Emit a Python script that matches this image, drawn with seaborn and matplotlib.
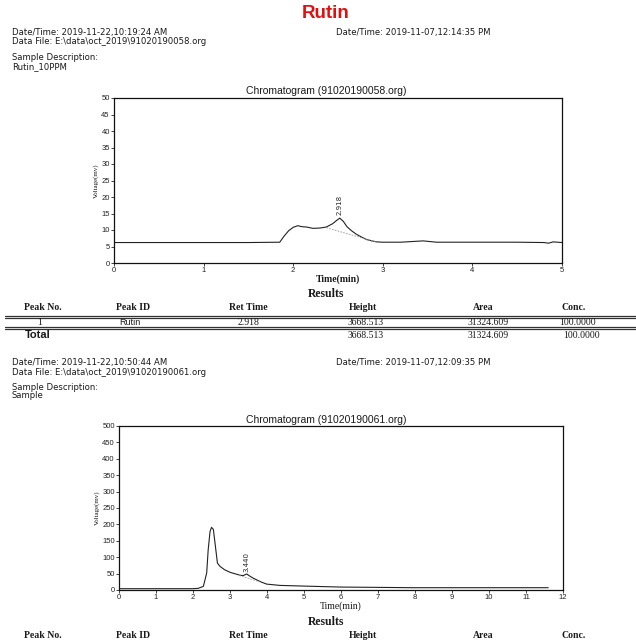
import matplotlib
matplotlib.use("Agg")
import matplotlib.pyplot as plt
import seaborn as sns
import pandas as pd
from matplotlib.lines import Line2D

# ---------------- data ----------------
std_time = [0.0, 0.5, 1.0, 1.5, 1.85, 1.9, 1.95, 2.0, 2.05, 2.1, 2.15, 2.22, 2.3, 2.37,
            2.44, 2.48, 2.52, 2.56, 2.6, 2.65, 2.7, 2.76, 2.82, 2.88, 2.93, 3.0, 3.2,
            3.45, 3.6, 4.0, 4.5, 4.8, 4.85, 4.9, 5.0]
std_volt = [6.2, 6.2, 6.2, 6.2, 6.3, 8.2, 9.8, 10.8, 11.3, 11.0, 10.9, 10.5, 10.6, 10.9,
            11.9, 12.8, 13.6, 12.6, 11.0, 9.8, 8.8, 7.9, 7.1, 6.7, 6.4, 6.3, 6.3,
            6.7, 6.3, 6.3, 6.3, 6.2, 6.0, 6.4, 6.2]
std_base_time = [2.37, 2.92]
std_base_volt = [10.7, 6.4]
std_peak_time = 2.52
std_peak_volt = 13.6
std_peak_label = "2.918"

smp_time = [0.0, 1.0, 2.0, 2.14, 2.28, 2.37, 2.41, 2.46, 2.5, 2.55, 2.59, 2.66, 2.73,
            2.85, 3.0, 3.15, 3.27, 3.36, 3.45, 3.54, 3.63, 3.72, 3.85, 3.99, 4.35,
            4.98, 5.97, 7.0, 7.95, 9.0, 10.0, 11.1, 11.6]
smp_volt = [4, 4, 4, 5, 11, 52, 122, 178, 191, 185, 148, 82, 72,
            62, 54, 49, 45, 44, 49, 42, 36, 31, 24, 18, 14,
            12, 9, 8, 7, 7, 7, 7, 7]
smp_base_time = [3.25, 3.8]
smp_base_volt = [44, 25]
smp_peak_time = 3.45
smp_peak_volt = 49
smp_peak_label = "3.440"

table_cols = ["Peak No.", "Peak ID", "Ret Time", "Height", "Area", "Conc."]
row1 = ["1", "Rutin", "2.918", "3668.513", "31324.609", "100.0000"]
total_row = ["3668.513", "31324.609", "100.0000"]

# ---------------- layout ----------------
W, H = 636, 643
sns.set_style("white")
plt.rcParams['font.family'] = ['Liberation Sans', 'DejaVu Sans']
fig = plt.figure(figsize=(W / 100, H / 100), dpi=100)
fig.patch.set_facecolor("white")

serif = "Liberation Serif"
HDR = 6.1
HFAM = "DejaVu Sans"
TXT = "#1a1a1a"


def ft(x, y, s, **kw):
    kw.setdefault("va", "center")
    kw.setdefault("ha", "left")
    kw.setdefault("color", TXT)
    fig.text(x / W, 1 - y / H, s, **kw)


def hdr(x, y, s):
    ft(x, y, s, fontsize=HDR, family=HFAM)


def hline(y, x0=5, x1=636, lw=0.9, color="#333333"):
    fig.add_artist(Line2D([x0 / W, x1 / W], [1 - y / H, 1 - y / H],
                          transform=fig.transFigure, color=color, lw=lw))


def make_axes(l, t, r, b):
    return fig.add_axes([l / W, 1 - b / H, (r - l) / W, (b - t) / H])


def style_axes(ax, xlim, ylim, xticks, yticks, bold_x):
    ax.set_xlim(*xlim)
    ax.set_ylim(*ylim)
    ax.set_xticks(xticks)
    ax.set_yticks(yticks)
    ax.tick_params(axis="both", direction="out", length=2.5, width=0.6,
                   labelsize=5.5, pad=0.5, colors="#222222", bottom=True, left=True)
    for s in ax.spines.values():
        s.set_visible(True)
        s.set_linewidth(0.9)
        s.set_color("#111111")
    ax.set_xlabel("Time(min)", family=serif, fontsize=7, labelpad=0,
                  fontweight="bold" if bold_x else "normal", color=TXT)
    ax.set_ylabel("Voltage(mv)", family=serif, fontsize=5, labelpad=1.5, color=TXT)


# ---------------- header 1 ----------------
ft(326, 13, "Rutin", ha="center", color="#e01010", fontsize=13.5, fontweight="bold")
hdr(12, 32, "Date/Time: 2019-11-22,10:19:24 AM")
hdr(12, 42, "Data File: E:\\data\\oct_2019\\91020190058.org")
hdr(336, 32, "Date/Time: 2019-11-07,12:14:35 PM")
hdr(12, 58, "Sample Description:")
hdr(12, 67, "Rutin_10PPM")

# ---------------- chart 1 ----------------
ax1 = make_axes(114, 98, 562, 263)
df1 = pd.DataFrame({"t": std_time, "v": std_volt})
sns.lineplot(data=df1, x="t", y="v", ax=ax1, color="#222222", lw=0.8)
sns.lineplot(x=std_base_time, y=std_base_volt, ax=ax1, color="#999999", lw=0.6,
             linestyle=(0, (2, 1.5)))
ax1.text(std_peak_time, std_peak_volt + 0.8, std_peak_label, rotation=90,
         ha="center", va="bottom", fontsize=5, family="Liberation Sans Narrow")
style_axes(ax1, (0, 5), (0, 50), range(0, 6), range(0, 55, 5), True)
ft(326, 91, "Chromatogram (91020190058.org)", ha="center", fontsize=7.5)

# ---------------- table 1 ----------------
ft(326, 294, "Results", ha="center", family=serif, fontsize=8.5, fontweight="bold")
col_x = [43, 133, 248, 363, 483, 574]
for x, c in zip(col_x, table_cols):
    ft(x, 307, c, ha="center", family=serif, fontsize=7, fontweight="bold")
hline(315.6)
hline(317.8)
val_x = [40, 130, 249, 366, 488, 577]
for x, v in zip(val_x, row1):
    ft(x, 322.5, v, ha="center", family=serif if v != "Rutin" else "Liberation Sans",
       fontsize=7 if v != "Rutin" else 6.5)
hline(327.0)
hline(328.8)
ft(25, 335.5, "Total", fontsize=8, fontweight="bold")
for x, v in zip([366, 488, 582], total_row):
    ft(x, 335.5, v, ha="center", family=serif, fontsize=7)

# ---------------- header 2 ----------------
hdr(12, 362, "Date/Time: 2019-11-22,10:50:44 AM")
hdr(12, 372, "Data File: E:\\data\\oct_2019\\91020190061.org")
hdr(336, 362, "Date/Time: 2019-11-07,12:09:35 PM")
hdr(12, 387, "Sample Description:")
hdr(12, 396, "Sample")

# ---------------- chart 2 ----------------
ax2 = make_axes(119, 426, 563, 590)
df2 = pd.DataFrame({"t": smp_time, "v": smp_volt})
sns.lineplot(data=df2, x="t", y="v", ax=ax2, color="#222222", lw=0.8)
sns.lineplot(x=smp_base_time, y=smp_base_volt, ax=ax2, color="#999999", lw=0.6,
             linestyle=(0, (2, 1.5)))
ax2.text(smp_peak_time, smp_peak_volt + 6, smp_peak_label, rotation=90,
         ha="center", va="bottom", fontsize=5, family="Liberation Sans Narrow")
style_axes(ax2, (0, 12), (0, 500), range(0, 13), range(0, 550, 50), False)
ft(326, 420, "Chromatogram (91020190061.org)", ha="center", fontsize=7.5)

# ---------------- table 2 header ----------------
ft(326, 622, "Results", ha="center", family=serif, fontsize=8.5, fontweight="bold")
for x, c in zip(col_x, table_cols):
    ft(x, 635, c, ha="center", family=serif, fontsize=7, fontweight="bold")

fig.savefig("out.png", dpi=100)
